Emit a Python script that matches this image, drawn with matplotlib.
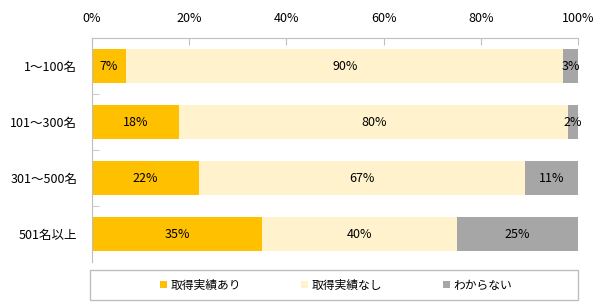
import matplotlib
matplotlib.use("Agg")
import matplotlib.pyplot as plt
from matplotlib.patches import Rectangle
import numpy as np

plt.rcParams['font.family'] = ['Noto Sans CJK JP', 'DejaVu Sans']
plt.rcParams['font.size'] = 9

# data
categories = ['1～100名', '101～300名', '301～500名', '501名以上']
series_names = ['取得実績あり', '取得実績なし', 'わからない']
yes_vals = [7, 18, 22, 35]
no_vals = [90, 80, 67, 40]
unknown_vals = [3, 2, 11, 25]
colors = ['#FFC000', '#FFF2CC', '#A6A6A6']

fig = plt.figure(figsize=(6.08, 3.08), dpi=100)
# axes placed in pixel terms: x 92..578, y 38..262 (top origin)
ax = fig.add_axes([92 / 608, (308 - 262) / 308, (578 - 92) / 608, (262 - 38) / 308])

y = np.arange(len(categories))
left = np.zeros(len(categories))
for vals, name, col in zip([yes_vals, no_vals, unknown_vals], series_names, colors):
    vals = np.array(vals, dtype=float)
    ax.barh(y, vals, left=left, height=0.59, color=col, label=name)
    for yi, l, v in zip(y, left, vals):
        ax.text(l + v / 2, yi, f'{int(v)}%', ha='center', va='center', fontsize=9, color='#000000')
    left += vals

ax.set_xlim(0, 100)
ax.set_ylim(len(categories) - 0.5, -0.5)
ax.set_yticks(y)
ax.set_yticklabels(categories)
ax.set_yticks(np.arange(0.5, len(categories) - 1, 1), minor=True)
ax.tick_params(axis='y', which='major', length=0, pad=10.5)
ax.tick_params(axis='y', which='minor', direction='in', length=5, color='#BFBFBF')

ax.xaxis.tick_top()
ax.set_xticks(np.arange(0, 101, 20))
ax.set_xticklabels([f'{v}%' for v in range(0, 101, 20)])
ax.tick_params(axis='x', direction='in', length=5, color='#BFBFBF', pad=9)

for s in ['right', 'bottom']:
    ax.spines[s].set_visible(False)
for s in ['top', 'left']:
    ax.spines[s].set_color('#BFBFBF')

# legend with its own frame
fig.patches.append(Rectangle((90 / 608, 8 / 308), (578 - 90) / 608, 30 / 308,
                             transform=fig.transFigure, fill=False, edgecolor='#BFBFBF', lw=1))
fig.legend(loc='center', bbox_to_anchor=(336 / 608, 23 / 308), ncol=3, frameon=False,
           handlelength=0.6, handleheight=0.6, handletextpad=0.3, columnspacing=5.1, fontsize=8.5)

fig.savefig('out.png', dpi=100)
